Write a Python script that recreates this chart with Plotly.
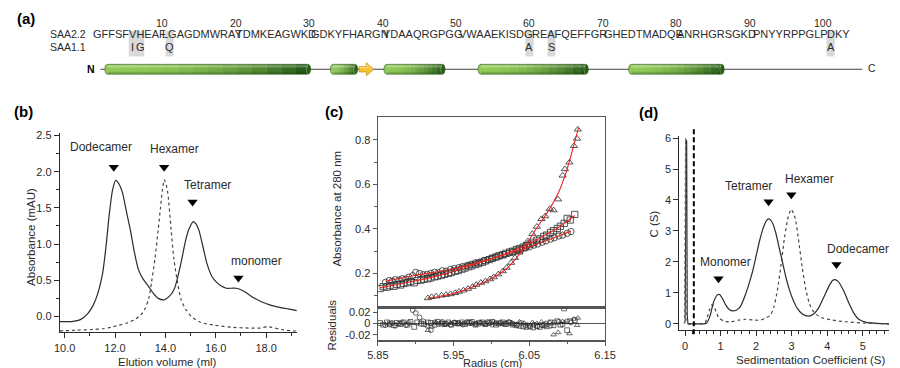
import plotly.graph_objects as go

# ================= DATA =================
# ---- panel (a): sequence / secondary structure ----
seq_blocks = ["GFFSFVHEAF", "LGAGDMWRAY", "TDMKEAGWKD", "GDKYFHARGN", "YDAAQRGPGG",
              "VWAAEKISDG", "REAFQEFFGR", "GHEDTMADQE", "ANRHGRSGKD", "PNYYRPPGLP", "DKY"]
seq_numbers = [10, 20, 30, 40, 50, 60, 70, 80, 90, 100]
subst_pos = [6, 7, 11, 60, 63, 101]
subst_res = ["I", "G", "Q", "A", "S", "A"]
helix_start = [2.2, 32.9, 40.2, 53.0, 73.5]
helix_end = [30.2, 36.6, 48.5, 68.0, 86.5]
strand_start = [36.8]
strand_end = [38.8]
backbone = [1.6, 105.3]

# ---- panel (b): SEC (elution volume in ml, absorbance in mAU) ----
b_solid_x = [9.81, 10.274, 10.64, 10.915, 11.125, 11.326, 11.509, 11.646, 11.775, 11.903, 12.031, 12.159,
             12.287, 12.451, 12.606, 12.762, 12.927, 13.11, 13.321, 13.522, 13.714, 13.952, 14.162, 14.354,
             14.528, 14.674, 14.803, 14.93, 15.104, 15.214, 15.324, 15.488, 15.643, 15.836, 16.037, 16.22,
             16.421, 16.632, 16.806, 16.998, 17.199, 17.501, 17.839, 18.141, 18.489, 18.782, 19.074, 19.22]
b_solid_y = [-0.07, -0.07, -0.04, 0.04, 0.15, 0.33, 0.6, 0.98, 1.42, 1.75, 1.88, 1.83,
             1.72, 1.45, 1.2, 0.9, 0.65, 0.52, 0.42, 0.32, 0.25, 0.23, 0.28, 0.38,
             0.6, 0.83, 1.05, 1.2, 1.31, 1.28, 1.2, 0.97, 0.74, 0.56, 0.47, 0.42,
             0.39, 0.39, 0.39, 0.37, 0.33, 0.26, 0.2, 0.16, 0.13, 0.11, 0.09, 0.08]
b_dash_x = [9.81, 10.457, 11.098, 11.509, 11.829, 12.159, 12.47, 12.799, 13.019, 13.183, 13.339, 13.448,
            13.586, 13.714, 13.805, 13.878, 13.952, 14.015, 14.098, 14.226, 14.336, 14.482, 14.619, 14.803,
            15.031, 15.388, 15.946, 16.677, 17.318, 17.775, 18.049, 18.232, 18.598, 19.074, 19.22]
b_dash_y = [-0.2, -0.19, -0.18, -0.17, -0.15, -0.12, -0.09, -0.04, 0.02, 0.1, 0.25, 0.47,
            0.8, 1.2, 1.5, 1.74, 1.89, 1.84, 1.7, 1.2, 0.8, 0.47, 0.24, 0.1,
            0.0, -0.08, -0.12, -0.15, -0.16, -0.16, -0.14, -0.15, -0.18, -0.2, -0.2]
b_labels = ["Dodecamer", "Hexamer", "Tetramer", "monomer"]
b_label_x = [11.45, 14.35, 15.66, 17.6]
b_label_y = [2.34, 2.31, 1.81, 0.77]
b_arrow_x = [11.95, 13.95, 15.08, 16.9]
b_arrow_y = [2.06, 2.06, 1.58, 0.53]

# ---- panel (c): sedimentation equilibrium ----
circ_x = [5.860, 5.865, 5.869, 5.873, 5.878, 5.882, 5.887, 5.891, 5.896, 5.900, 5.905, 5.910, 5.915, 5.920,
          5.925, 5.930, 5.935, 5.940, 5.946, 5.951, 5.957, 5.962, 5.968, 5.973, 5.979, 5.984, 5.990, 5.995,
          6.001, 6.006, 6.012, 6.017, 6.023, 6.028, 6.034, 6.039, 6.045, 6.050, 6.056, 6.061, 6.067, 6.072,
          6.078, 6.083, 6.089, 6.094, 6.100, 6.105]
circ_y = [.160, .168, .165, .172, .170, .176, .175, .183, .190, .205, .200, .194, .196, .200, .205, .203, .212,
          .210, .218, .222, .226, .231, .236, .241, .248, .250, .258, .261, .268, .272, .280, .284, .291, .296,
          .302, .306, .314, .319, .327, .332, .340, .346, .354, .360, .368, .372, .380, .388]
circ_res = [-.003, -.002, .001, -.004, .000, .002, -.003, .001, .024, .019, .011, .004, -.004, -.012, .002,
            -.001, .003, .000, -.002, .002, .001, -.002, .003, .001, -.001, .002, .000, .003, -.002, .001,
            .002, -.001, .003, .000, -.002, .001, -.003, -.004, -.002, -.005, -.003, .000, -.004, .002, .003,
            -.002, .004, .002]
circ_fit_x = [5.860, 5.90, 5.94, 5.98, 6.02, 6.05, 6.08, 6.105]
circ_fit_y = [0.165, 0.192, 0.214, 0.247, 0.287, 0.319, 0.357, 0.390]

sq_x = [5.853, 5.857, 5.862, 5.866, 5.871, 5.875, 5.880, 5.884, 5.889, 5.893, 5.898, 5.902, 5.907, 5.911,
        5.916, 5.920, 5.925, 5.929, 5.934, 5.938, 5.943, 5.947, 5.952, 5.956, 5.961, 5.965, 5.970, 5.974,
        5.979, 5.983, 5.988, 5.992, 5.997, 6.001, 6.006, 6.010, 6.015, 6.019, 6.024, 6.028, 6.033, 6.037,
        6.042, 6.046, 6.051, 6.055, 6.060, 6.064, 6.069, 6.073, 6.078, 6.082, 6.087, 6.091, 6.096, 6.100,
        6.104, 6.110]
sq_y = [.132, .140, .138, .145, .142, .150, .148, .155, .158, .163, .158, .168, .170, .174, .176, .180, .185,
        .188, .192, .196, .200, .204, .210, .213, .219, .224, .230, .234, .240, .244, .250, .256, .262, .268,
        .274, .279, .284, .290, .296, .300, .307, .312, .318, .325, .332, .340, .349, .355, .366, .372, .384,
        .392, .402, .412, .425, .447, .440, .465]
sq_res = [.001, -.002, .002, .000, -.003, .001, -.001, .002, -.002, .003, -.006, .002, .000, -.001, .002,
          .001, -.002, .003, .000, -.001, .002, -.002, .001, .000, .002, -.001, .001, .003, -.002, .000,
          .002, -.001, .001, .003, -.002, .000, .002, -.001, .001, -.002, -.003, -.004, -.005, -.006, -.005,
          -.007, -.004, -.006, -.003, -.005, .002, -.003, .004, -.002, .027, -.012, .004, .006]
sq_fit_x = [5.853, 5.89, 5.93, 5.97, 6.00, 6.03, 6.05, 6.07, 6.09, 6.11]
sq_fit_y = [0.135, 0.160, 0.190, 0.232, 0.266, 0.303, 0.333, 0.370, 0.410, 0.460]

tri_x = [5.916, 5.921, 5.927, 5.934, 5.940, 5.946, 5.952, 5.957, 5.963, 5.969, 5.975, 5.980, 5.986, 5.992,
         5.998, 6.003, 6.009, 6.015, 6.020, 6.026, 6.031, 6.037, 6.043, 6.048, 6.054, 6.060, 6.066, 6.071,
         6.077, 6.082, 6.088, 6.094, 6.097, 6.103, 6.109, 6.113, 6.114]
tri_y = [.089, .094, .097, .101, .104, .107, .112, .118, .124, .131, .140, .149, .158, .165, .174, .183, .196,
         .210, .226, .248, .270, .294, .322, .345, .378, .410, .445, .457, .490, .484, .533, .640, .669, .699,
         .773, .806, .847]
tri_res = [-.012, -.006, .002, .001, -.002, .001, .002, -.001, .000, .002, -.001, .001, .002, -.002, .001,
           .003, .000, -.001, .002, .001, -.002, .003, .001, -.002, .002, .000, .003, -.004, .002, -.020,
           -.016, .004, .002, -.018, .008, -.003, .010]
tri_fit_x = [5.916, 5.95, 5.98, 6.00, 6.02, 6.04, 6.06, 6.075, 6.09, 6.10, 6.115]
tri_fit_y = [0.088, 0.110, 0.146, 0.177, 0.222, 0.300, 0.405, 0.480, 0.575, 0.670, 0.855]

# ---- panel (d): c(s) distribution ----
d_solid_x = [0.08, 0.2, 0.5, 0.6, 0.7, 0.8, 0.9, 0.97, 1.05, 1.15, 1.25, 1.35, 1.45, 1.55, 1.7, 1.8, 1.9,
             2.0, 2.1, 2.2, 2.3, 2.36, 2.45, 2.55, 2.65, 2.75, 2.85, 2.95, 3.05, 3.15, 3.3, 3.47, 3.6, 3.75,
             3.9, 4.05, 4.15, 4.22, 4.3, 4.45, 4.6, 4.75, 4.9, 5.1, 5.4, 5.8]
d_solid_y = [0, 0, 0, 0.02, 0.25, 0.7, 0.93, 0.95, 0.82, 0.6, 0.46, 0.42, 0.45, 0.55, 0.95, 1.3, 1.7,
             2.2, 2.7, 3.1, 3.35, 3.39, 3.28, 2.95, 2.45, 1.95, 1.45, 1.05, 0.75, 0.52, 0.32, 0.25, 0.3, 0.5,
             0.85, 1.22, 1.4, 1.43, 1.38, 1.1, 0.7, 0.35, 0.14, 0.05, 0.02, 0.0]
d_dash_x = [0.07, 0.3, 0.55, 0.62, 0.7, 0.76, 0.8, 0.87, 0.95, 1.1, 1.3, 1.5, 1.7, 1.9, 2.1, 2.25, 2.4, 2.5,
            2.6, 2.7, 2.8, 2.9, 2.99, 3.1, 3.2, 3.3, 3.4, 3.5, 3.6, 3.7, 3.85, 4.1, 4.5, 5.0, 5.4, 5.8]
d_dash_y = [0, 0, 0.02, 0.2, 0.5, 0.62, 0.58, 0.4, 0.2, 0.08, 0.07, 0.12, 0.15, 0.13, 0.12, 0.18, 0.28, 0.55,
            1.1, 1.9, 2.8, 3.45, 3.7, 3.4, 2.65, 1.8, 1.1, 0.65, 0.42, 0.3, 0.2, 0.13, 0.07, 0.03, 0.01, 0.0]
d_spike_solid_x = [0.0, 0.03, 0.045, 0.06, 0.08]
d_spike_solid_y = [0.05, 5.95, 5.9, 0.3, 0.0]
d_spike_dash_x = [-0.02, 0.01, 0.022, 0.04, 0.07]
d_spike_dash_y = [0.0, 6.0, 5.9, 0.2, 0.0]
d_cutoff = 0.245
d_labels = ["Monomer", "Tetramer", "Hexamer", "Dodecamer"]
d_label_x = [1.15, 1.79, 3.51, 4.86]
d_label_y = [2.0, 4.45, 4.67, 2.43]
d_arrow_x = [0.94, 2.35, 2.99, 4.26]
d_arrow_y = [1.46, 3.94, 4.17, 1.92]

# ================= STYLE / LAYOUT HELPERS =================
W, H = 900, 368
FONT = "Liberation Sans, Arial, Helvetica, sans-serif"
INK = "#2b2b2b"
RED = "#e8261f"


def px(x):
    return x / W


def py(y):
    return 1 - y / H


fig = go.Figure()

# ---------- panel (b) ----------
fig.add_trace(go.Scatter(x=b_solid_x, y=b_solid_y, mode="lines", xaxis="x", yaxis="y",
                         line=dict(color=INK, width=1.2, shape="spline", smoothing=0.7)))
fig.add_trace(go.Scatter(x=b_dash_x, y=b_dash_y, mode="lines", xaxis="x", yaxis="y",
                         line=dict(color="#444", width=1.2, dash="dot", shape="spline", smoothing=0.7)))
fig.add_trace(go.Scatter(x=b_arrow_x, y=b_arrow_y, mode="markers", xaxis="x", yaxis="y",
                         marker=dict(symbol="triangle-down", size=9, color="black")))

# ---------- panel (c) ----------
mk = dict(color=INK, size=6.3, line=dict(width=0.8))
for xs, ys, sym in [(circ_x, circ_y, "circle-open"), (sq_x, sq_y, "square-open"),
                    (tri_x, tri_y, "triangle-up-open")]:
    fig.add_trace(go.Scatter(x=xs, y=ys, mode="markers", xaxis="x2", yaxis="y2",
                             marker=dict(symbol=sym, **mk)))
for fx, fy in [(circ_fit_x, circ_fit_y), (sq_fit_x, sq_fit_y), (tri_fit_x, tri_fit_y)]:
    fig.add_trace(go.Scatter(x=fx, y=fy, mode="lines", xaxis="x2", yaxis="y2",
                             line=dict(color=RED, width=1.1, shape="spline", smoothing=0.8)))
mk_r = dict(color=INK, size=4.8, line=dict(width=0.7))
for xs, ys, sym in [(circ_x, circ_res, "circle-open"), (sq_x, sq_res, "square-open"),
                    (tri_x, tri_res, "triangle-up-open")]:
    fig.add_trace(go.Scatter(x=xs, y=ys, mode="markers", xaxis="x3", yaxis="y3",
                             marker=dict(symbol=sym, **mk_r)))

# ---------- panel (d) ----------
fig.add_trace(go.Scatter(x=d_solid_x, y=d_solid_y, mode="lines", xaxis="x4", yaxis="y4",
                         line=dict(color=INK, width=1.2, shape="spline", smoothing=0.6)))
fig.add_trace(go.Scatter(x=d_dash_x, y=d_dash_y, mode="lines", xaxis="x4", yaxis="y4",
                         line=dict(color="#444", width=1.2, dash="dot", shape="spline", smoothing=0.6)))
fig.add_trace(go.Scatter(x=d_spike_solid_x, y=d_spike_solid_y, mode="lines", xaxis="x4", yaxis="y4",
                         line=dict(color=INK, width=1.1)))
fig.add_trace(go.Scatter(x=d_spike_dash_x, y=d_spike_dash_y, mode="lines", xaxis="x4", yaxis="y4",
                         line=dict(color="#666", width=1.0, dash="dot")))
fig.add_trace(go.Scatter(x=d_arrow_x, y=d_arrow_y, mode="markers", xaxis="x4", yaxis="y4",
                         marker=dict(symbol="triangle-down", size=9, color="black")))

# ---------- panel (a) ----------
YC = 66.0            # backbone row (pixel rows in the (a) strip)
HH = 5.0             # half height of helix cylinders
fig.add_trace(go.Scatter(x=backbone, y=[YC, YC], mode="lines", xaxis="x5", yaxis="y5",
                         line=dict(color="#444", width=1)))

shapes = []
for p in subst_pos:
    shapes.append(dict(type="rect", xref="x5", yref="y5", x0=p - 0.55, x1=p + 0.55, y0=27, y1=53,
                       fillcolor="#d9d9d9", line=dict(width=0), layer="below"))


def mix(c1, c2, t):
    return "rgb(%d,%d,%d)" % tuple(round(a + (b - a) * t) for a, b in zip(c1, c2))


LIGHT = (146, 202, 88)
DARK = (38, 92, 24)
y0h, y1h, ych = YC - HH, YC + HH, YC
N = 14
for r0, r1 in zip(helix_start, helix_end):
    w = r1 - r0
    rx = min(0.4, w / 6)
    for i in range(N):
        a = r0 + w * i / N
        b = r0 + w * (i + 1) / N + 0.04
        col = mix(LIGHT, DARK, (i / (N - 1)) ** 2.0)
        if i == 0:
            path = (f"M {b},{y0h} L {r0 + rx},{y0h} Q {r0},{y0h} {r0},{ych} "
                    f"Q {r0},{y1h} {r0 + rx},{y1h} L {b},{y1h} Z")
        elif i == N - 1:
            path = (f"M {a},{y0h} L {r1 - rx},{y0h} Q {r1},{y0h} {r1},{ych} "
                    f"Q {r1},{y1h} {r1 - rx},{y1h} L {a},{y1h} Z")
        else:
            path = f"M {a},{y0h} L {b},{y0h} L {b},{y1h} L {a},{y1h} Z"
        shapes.append(dict(type="path", xref="x5", yref="y5", path=path, fillcolor=col, line=dict(width=0)))
    shapes.append(dict(type="rect", xref="x5", yref="y5", x0=r0 + rx, x1=r1 - rx, y0=y0h + 1, y1=y0h + 3.2,
                       fillcolor="rgba(255,255,255,0.28)", line=dict(width=0)))
    shapes.append(dict(type="rect", xref="x5", yref="y5", x0=r0 + rx, x1=r1 - rx, y0=y1h - 2.4, y1=y1h - 0.2,
                       fillcolor="rgba(0,40,0,0.18)", line=dict(width=0)))
    outline = (f"M {r0 + rx},{y0h} L {r1 - rx},{y0h} Q {r1},{y0h} {r1},{ych} Q {r1},{y1h} {r1 - rx},{y1h} "
               f"L {r0 + rx},{y1h} Q {r0},{y1h} {r0},{ych} Q {r0},{y0h} {r0 + rx},{y0h} Z")
    shapes.append(dict(type="path", xref="x5", yref="y5", path=outline,
                       line=dict(color="rgba(45,85,25,0.85)", width=0.7)))
    shapes.append(dict(type="path", xref="x5", yref="y5",
                       path=f"M {r1 - rx},{y0h} Q {r1 - 2 * rx},{ych} {r1 - rx},{y1h}",
                       line=dict(color="rgba(200,230,170,0.6)", width=0.6)))

for s0, s1 in zip(strand_start, strand_end):
    sm = s0 + 0.5 * (s1 - s0)
    path = (f"M {s0},{YC - 2.7} L {sm},{YC - 2.7} L {sm},{YC - 6.5} L {s1},{YC} L {sm},{YC + 6.5} "
            f"L {sm},{YC + 2.7} L {s0},{YC + 2.7} Z")
    shapes.append(dict(type="path", xref="x5", yref="y5", path=path, fillcolor="#f7c437",
                       line=dict(color="#c99015", width=0.8)))
    shapes.append(dict(type="path", xref="x5", yref="y5",
                       path=f"M {s0 + 0.1},{YC - 1.8} L {sm + 0.1},{YC - 1.8} L {sm + 0.1},{YC - 4.4} "
                            f"L {s1 - 0.35},{YC - 1.0}",
                       line=dict(color="rgba(255,240,170,0.8)", width=0.8)))

shapes.append(dict(type="line", xref="x4", yref="y4 domain", x0=d_cutoff, x1=d_cutoff, y0=-0.02, y1=1.04,
                   line=dict(color="black", width=2, dash="5px,3px")))

annotations = []


def ann(text, x, y, xref="paper", yref="paper", size=11, bold=False, xanchor="center",
        yanchor="middle", angle=0, color=INK):
    if xref == "paper":
        x = px(x)
    if yref == "paper":
        y = py(y)
    if bold:
        text = "<b>" + text + "</b>"
    annotations.append(dict(text=text, x=x, y=y, xref=xref, yref=yref, showarrow=False,
                            xanchor=xanchor, yanchor=yanchor, textangle=angle,
                            font=dict(family=FONT, size=size, color=color)))


ann("(a)", 15, 15, size=15, bold=True, color="black")
ann("(b)", 13, 109, size=15, bold=True, color="black")
ann("(c)", 331, 109, size=15, bold=True, color="black")
ann("(d)", 653, 110, size=15, bold=True, color="black")

ann("SAA2.2", 38, 30, size=10.5, xanchor="left")
ann("SAA1.1", 38, 43, size=10.5, xanchor="left")
for k, blk in enumerate(seq_blocks):
    first = 10 * k + 1
    centre = first + (len(blk) - 1) / 2
    ann(blk, centre, 30, xref="x5", yref="y5", size=11)
for n in seq_numbers:
    ann(str(n), n, 19.5, xref="x5", yref="y5", size=10.5)
for p, r in zip(subst_pos, subst_res):
    ann(r, p, 43, xref="x5", yref="y5", size=11)
ann("N", backbone[0] - 0.5, YC, xref="x5", yref="y5", size=10.5, bold=True, xanchor="right", color="black")
ann("C", backbone[1] + 0.5, YC - 1, xref="x5", yref="y5", size=10.5, xanchor="left")

for t, x, y in zip(b_labels, b_label_x, b_label_y):
    ann(t, x, y, xref="x", yref="y", size=12)
ann("Absorbance (mAU)", 21, 235, size=11.5, angle=-90)
ann("Elution volume (ml)", 160, 362, size=11.5)

ann("Absorbance at 280 nm", 334, 207, size=11.5, angle=-90)
ann("Residuals", 330, 324, size=11.5, angle=-90)
ann("Radius (cm)", 494, 362.5, size=11)

for t, x, y in zip(d_labels, d_label_x, d_label_y):
    ann(t, x, y, xref="x4", yref="y4", size=12)
ann("C (S)", 659, 222, size=11.5, angle=-90)
ann("Sedimentation Coefficient (S)", 820, 360, size=11.5)

tickfont = dict(family=FONT, size=11, color=INK)
base_ax = dict(showgrid=False, zeroline=False, showline=True, linecolor=INK, linewidth=1,
               ticks="outside", tickcolor=INK, tickwidth=1, ticklen=5, tickfont=tickfont)
box_ax = dict(showgrid=False, zeroline=False, showline=True, linecolor="#555", linewidth=1.2,
              mirror=True, tickfont=tickfont, tickcolor="#555")

fig.update_layout(
    width=W, height=H, margin=dict(l=0, r=0, t=0, b=0, pad=0), autosize=False,
    paper_bgcolor="white", plot_bgcolor="rgba(0,0,0,0)", showlegend=False,
    font=dict(family=FONT, color=INK),
    xaxis=dict(**base_ax, domain=[px(50), px(293)], range=[9.806, 19.22], anchor="y",
               tick0=10, dtick=2, tickformat=".1f",
               minor=dict(dtick=1, ticks="outside", ticklen=2.5, tickcolor=INK)),
    yaxis=dict(**base_ax, domain=[py(332), py(130)], range=[-0.22, 2.54], anchor="x",
               tick0=0, dtick=0.5, tickformat=".1f",
               minor=dict(dtick=0.25, ticks="outside", ticklen=2.5, tickcolor=INK)),
    xaxis2=dict(**box_ax, domain=[px(376), px(609)], range=[5.8499, 6.1501], anchor="y2",
                ticks="", showticklabels=False, matches="x3"),
    yaxis2=dict(**box_ax, domain=[py(307), py(114)], range=[0.046, 0.904], anchor="x2",
                ticks="outside", ticklen=4, tickvals=[0.2, 0.4, 0.6, 0.8], tickformat=".1f",
                minor=dict(tickvals=[0.1, 0.3, 0.5, 0.7], ticks="outside", ticklen=2.5, tickcolor="#555")),
    xaxis3=dict(**box_ax, domain=[px(376), px(609)], range=[5.8499, 6.1501], anchor="y3",
                ticks="outside", ticklen=4, tick0=5.85, dtick=0.1, tickformat=".2f",
                ticklabeloverflow="allow",
                minor=dict(dtick=0.05, ticks="outside", ticklen=2.5, tickcolor="#555")),
    yaxis3=dict(showgrid=False, showline=True, linecolor="#555", linewidth=1.2, mirror=True,
                tickfont=tickfont, tickcolor="#555",
                domain=[py(340), py(307)], range=[-0.030, 0.0284], anchor="x3",
                ticks="outside", ticklen=4, tickvals=[-0.02, 0, 0.02], ticktext=["-0.02", "0", "0.02"],
                zeroline=True, zerolinecolor="#555", zerolinewidth=1.2),
    xaxis4=dict(**base_ax, domain=[px(685), 1.0], range=[-0.165, 5.74], anchor="y4",
                tick0=0, dtick=1,
                minor=dict(dtick=0.2, ticks="outside", ticklen=2.5, tickcolor=INK)),
    yaxis4=dict(**base_ax, domain=[py(330), py(133)], range=[-0.21, 6.08], anchor="x4",
                tick0=0, dtick=1),
    xaxis5=dict(domain=[0, 1], range=[-10.58, 108.94], anchor="y5", visible=False),
    yaxis5=dict(domain=[py(90), 1], range=[90, 0], anchor="x5", visible=False),
    shapes=shapes, annotations=annotations,
)

fig.write_html("out.html", config={"displayModeBar": False, "staticPlot": True},
               post_script="document.body.style.margin='0px';document.body.style.overflow='hidden';")
